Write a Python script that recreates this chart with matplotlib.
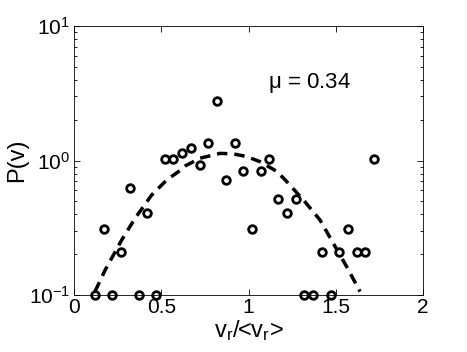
import matplotlib
matplotlib.use('Agg')
import matplotlib.pyplot as plt
from matplotlib.ticker import FixedLocator, LogLocator, NullFormatter

plt.rcParams['font.family'] = ['Liberation Sans', 'DejaVu Sans']
plt.rcParams['mathtext.fontset'] = 'custom'
plt.rcParams['mathtext.rm'] = 'Liberation Sans'
plt.rcParams['mathtext.it'] = 'Liberation Sans'

# histogram points
v_pts = [0.12, 0.17, 0.22, 0.27, 0.32, 0.37, 0.42, 0.47, 0.52, 0.57, 0.62,
         0.67, 0.72, 0.77, 0.82, 0.87, 0.92, 0.97, 1.02, 1.07, 1.12, 1.17,
         1.22, 1.27, 1.32, 1.37, 1.42, 1.47, 1.52, 1.57, 1.62, 1.67, 1.72]
p_pts = [0.10, 0.31, 0.10, 0.21, 0.62, 0.10, 0.41, 0.10, 1.03, 1.03, 1.14,
         1.24, 0.93, 1.35, 2.78, 0.72, 1.35, 0.83, 0.31, 0.83, 1.03, 0.52,
         0.41, 0.52, 0.10, 0.10, 0.21, 0.10, 0.21, 0.31, 0.21, 0.21, 1.03]

# fitted curve
v_fit = [0.12, 0.178, 0.273, 0.35, 0.445, 0.531, 0.598, 0.636, 0.722, 0.837,
         0.913, 0.99, 1.066, 1.162, 1.209, 1.314, 1.41, 1.486, 1.563, 1.639]
p_fit = [0.106, 0.153, 0.256, 0.372, 0.554, 0.716, 0.826, 0.91, 1.04, 1.13,
         1.12, 1.07, 0.98, 0.83, 0.72, 0.51, 0.361, 0.242, 0.162, 0.106]

fig = plt.figure(figsize=(4.67, 3.52), dpi=100)
ax = fig.add_axes([0.1585, 0.162, 0.7473, 0.764])

ax.plot(v_fit, p_fit, color='black', linestyle=(0, (3, 2)), linewidth=2.5)
ax.plot(v_pts, p_pts, linestyle='none', marker='o', markersize=5.5,
        markerfacecolor='white', markeredgecolor='black', markeredgewidth=2,
        clip_on=False)

ax.set_yscale('log')
ax.set_xlim(0, 2)
ax.set_ylim(0.1, 10)
ax.xaxis.set_major_locator(FixedLocator([0, 0.5, 1, 1.5, 2]))
ax.set_xticklabels(['0', '0.5', '1', '1.5', '2'])
ax.yaxis.set_major_locator(FixedLocator([0.1, 1, 10]))
ax.set_yticklabels([r'$10^{-1}$', r'$10^{0}$', r'$10^{1}$'])
ax.yaxis.set_minor_locator(LogLocator(base=10, subs=range(2, 10)))
ax.yaxis.set_minor_formatter(NullFormatter())

ax.tick_params(which='both', direction='in', top=True, right=True,
               labelsize=15, width=0.6)
ax.tick_params(axis='x', pad=2)
ax.tick_params(axis='y', pad=3)
ax.tick_params(which='major', length=4)
ax.tick_params(which='minor', length=2)
for s in ax.spines.values():
    s.set_linewidth(0.6)

ax.set_xlabel('v$_r$/<v$_r$>', fontsize=17, labelpad=1)
ax.set_ylabel('P(v)', fontsize=17, labelpad=0)
ax.text(1.11, 3.8, r'$\mathregular{\mu}$ = 0.34', fontsize=16, va='center')

fig.savefig('out.png', dpi=100)
